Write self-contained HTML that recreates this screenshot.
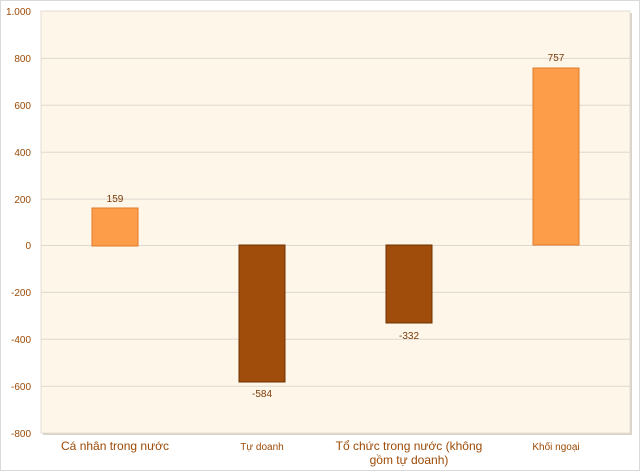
<!DOCTYPE html>
<html><head><meta charset="utf-8"><style>
html,body{margin:0;padding:0;background:#fff;}
svg{display:block;font-family:"Liberation Sans",sans-serif;}
</style></head><body>
<svg width="640" height="471" viewBox="0 0 640 471">
<rect x="0.5" y="0.5" width="639" height="470" fill="#fff" stroke="#d9d9d9"/>
<rect x="43" y="13" width="589" height="422" fill="#d8d2c8"/>
<rect x="41" y="11" width="589" height="422" fill="#fef6e8" stroke="#e6dfd4"/>
<g stroke="#ddd8d0" stroke-width="1">
<line x1="41" x2="630" y1="58.4" y2="58.4"/>
<line x1="41" x2="630" y1="105.3" y2="105.3"/>
<line x1="41" x2="630" y1="152.2" y2="152.2"/>
<line x1="41" x2="630" y1="199.1" y2="199.1"/>
<line x1="41" x2="630" y1="245.5" y2="245.5"/>
<line x1="41" x2="630" y1="292.4" y2="292.4"/>
<line x1="41" x2="630" y1="339.3" y2="339.3"/>
<line x1="41" x2="630" y1="386.2" y2="386.2"/>
</g>
<g fill="#9c4a06" font-size="10" text-anchor="end">
<text x="31" y="15">1.000</text>
<text x="31" y="62">800</text>
<text x="31" y="109">600</text>
<text x="31" y="156">400</text>
<text x="31" y="203">200</text>
<text x="31" y="249">0</text>
<text x="31" y="296">-200</text>
<text x="31" y="343">-400</text>
<text x="31" y="390">-600</text>
<text x="31" y="437">-800</text>
</g>
<rect x="92" y="208" width="46" height="38" fill="#fd9d4a" stroke="#e07a2a"/>
<rect x="239" y="245" width="46" height="137" fill="#a04c0a" stroke="#6e3205"/>
<rect x="386" y="245" width="46" height="78" fill="#a04c0a" stroke="#6e3205"/>
<rect x="533" y="68" width="46" height="177" fill="#fd9d4a" stroke="#e07a2a"/>
<g fill="#7a3a08" font-size="10" text-anchor="middle">
<text x="115" y="202">159</text>
<text x="262" y="397">-584</text>
<text x="409" y="339">-332</text>
<text x="556" y="61">757</text>
</g>
<g fill="#9c4a06" text-anchor="middle">
<text x="115" y="450" font-size="12">Cá nhân trong nước</text>
<text x="262" y="450" font-size="10">Tự doanh</text>
<text x="409" y="450" font-size="12">Tổ chức trong nước (không</text>
<text x="409" y="464" font-size="12">gồm tự doanh)</text>
<text x="556" y="450" font-size="10">Khối ngoại</text>
</g>
</svg>
</body></html>
